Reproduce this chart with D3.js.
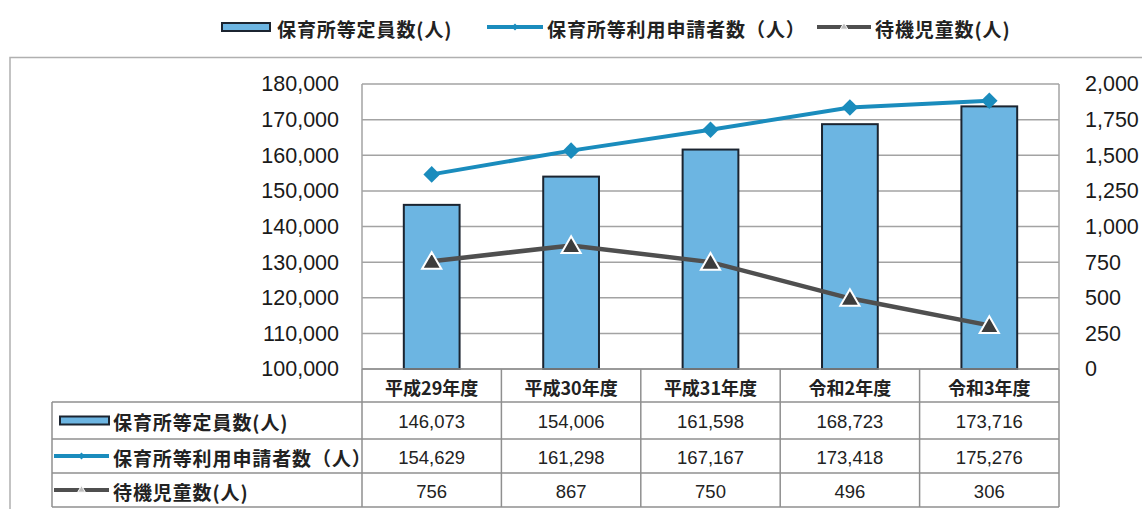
<!DOCTYPE html>
<html><head><meta charset="utf-8">
<script src="https://cdn.jsdelivr.net/npm/d3@7"></script>
<style>
html,body{margin:0;padding:0;background:#fff;}
svg{display:block;}
</style></head>
<body>
<svg id="chart" width="1142" height="509"></svg>
<script>
const categories = ["平成29年度","平成30年度","平成31年度","令和2年度","令和3年度"];
const capacity   = [146073,154006,161598,168723,173716];
const applicants = [154629,161298,167167,173418,175276];
const waiting    = [756,867,750,496,306];
const seriesNames = ["保育所等定員数(人)","保育所等利用申請者数（人）","待機児童数(人)"];
const leftTicks  = [100000,110000,120000,130000,140000,150000,160000,170000,180000];
const rightTicks = [0,250,500,750,1000,1250,1500,1750,2000];

const barFill = "#6cb5e2", barStroke = "#1b2430";
const blue = "#1a8cbd", gray = "#4f4f4f", gridC = "#a3a3a3", tableC = "#8f8f8f";
const cjk = "'Noto Sans CJK JP','Noto Sans',sans-serif";
const num = "'Liberation Sans',Arial,sans-serif";

const svg = d3.select("#chart");
const P = {l:362, r:1059, t:84, b:369};
const x = d3.scaleBand().domain(categories).range([P.l,P.r]);
const yL = d3.scaleLinear().domain([100000,180000]).range([P.b,P.t]);
const yR = d3.scaleLinear().domain([0,2000]).range([P.b,P.t]);

// outer border
svg.append("path").attr("d",`M10,509V57.5H1142`).attr("fill","none").attr("stroke","#b0b0b0").attr("stroke-width",1.5);

// gridlines
svg.append("g").selectAll("line").data(leftTicks).join("line")
  .attr("x1",P.l).attr("x2",P.r).attr("y1",d=>yL(d)).attr("y2",d=>yL(d))
  .attr("stroke",gridC).attr("stroke-width",1.5);
svg.append("line").attr("x1",P.l).attr("x2",P.l).attr("y1",P.t).attr("y2",P.b).attr("stroke",gridC).attr("stroke-width",1.5);
svg.append("line").attr("x1",P.r).attr("x2",P.r).attr("y1",P.t).attr("y2",P.b).attr("stroke",gridC).attr("stroke-width",1.5);

// axes
const gl = svg.append("g").attr("transform",`translate(${P.l},0)`)
  .call(d3.axisLeft(yL).tickValues(leftTicks).tickFormat(d3.format(",")).tickSize(0).tickPadding(23));
gl.select(".domain").remove();
gl.selectAll("text").attr("font-family",num).attr("font-size",21.5).attr("fill","#1a1a1a");
const gr = svg.append("g").attr("transform",`translate(${P.r},0)`)
  .call(d3.axisRight(yR).tickValues(rightTicks).tickFormat(d3.format(",")).tickSize(0).tickPadding(26));
gr.select(".domain").remove();
gr.selectAll("text").attr("font-family",num).attr("font-size",21.5).attr("fill","#1a1a1a");

// bars
const bw = x.bandwidth()*0.4;
svg.append("g").selectAll("rect").data(capacity).join("rect")
  .attr("x",(d,i)=>x(categories[i])+x.bandwidth()/2-bw/2)
  .attr("y",d=>yL(d)).attr("width",bw).attr("height",d=>P.b-yL(d))
  .attr("fill",barFill).attr("stroke",barStroke).attr("stroke-width",2);

// applicants line
const cx = (i)=>x(categories[i])+x.bandwidth()/2;
svg.append("path").datum(applicants)
  .attr("d",d3.line().x((d,i)=>cx(i)).y(d=>yL(d)))
  .attr("fill","none").attr("stroke",blue).attr("stroke-width",4);
svg.append("g").selectAll("path").data(applicants).join("path")
  .attr("transform",(d,i)=>`translate(${cx(i)},${yL(d)})`)
  .attr("d",d3.symbol(d3.symbolDiamond2,175)).attr("fill",blue);

// waiting line
svg.append("path").datum(waiting)
  .attr("d",d3.line().x((d,i)=>cx(i)).y(d=>yR(d)))
  .attr("fill","none").attr("stroke",gray).attr("stroke-width",4.5);
svg.append("g").selectAll("path").data(waiting).join("path")
  .attr("transform",(d,i)=>`translate(${cx(i)},${yR(d)+2})`)
  .attr("d",d3.symbol(d3.symbolTriangle,160)).attr("fill","#3c3c3c")
  .attr("stroke","#fff").attr("stroke-width",2);

// table
const T = {l:52, rows:[369,402,439,473,507]};
const tg = svg.append("g").attr("stroke",tableC).attr("stroke-width",1.5);
tg.append("line").attr("x1",P.l).attr("x2",P.r).attr("y1",T.rows[0]).attr("y2",T.rows[0]);
[1,2,3,4].forEach(k=>tg.append("line").attr("x1",T.l).attr("x2",P.r).attr("y1",T.rows[k]).attr("y2",T.rows[k]));
tg.append("line").attr("x1",T.l).attr("x2",T.l).attr("y1",T.rows[1]).attr("y2",T.rows[4]);
categories.forEach((c,i)=>tg.append("line").attr("x1",x(c)).attr("x2",x(c)).attr("y1",T.rows[0]).attr("y2",T.rows[4]));
tg.append("line").attr("x1",P.r).attr("x2",P.r).attr("y1",T.rows[0]).attr("y2",T.rows[4]);

svg.append("g").selectAll("text").data(categories).join("text")
  .attr("x",(d,i)=>cx(i)).attr("y",(T.rows[0]+T.rows[1])/2+1).attr("text-anchor","middle")
  .attr("dominant-baseline","central").attr("font-family",cjk).attr("font-weight",700)
  .attr("font-size",18).attr("fill","#222").text(d=>d);

const tableData = [capacity, applicants, waiting];
tableData.forEach((arr,r)=>{
  const yc = (T.rows[r+1]+T.rows[r+2])/2+1;
  svg.append("g").selectAll("text").data(arr).join("text")
    .attr("x",(d,i)=>cx(i)).attr("y",yc).attr("text-anchor","middle")
    .attr("dominant-baseline","central").attr("font-family",num)
    .attr("font-size",18.5).attr("fill","#222").text(d=>d3.format(",")(d));
  svg.append("text").attr("x",113).attr("y",yc).attr("dominant-baseline","central")
    .attr("font-family",cjk).attr("font-weight",700).attr("font-size",19).attr("letter-spacing",0.9).attr("fill","#222")
    .text(seriesNames[r]);
});

// legend key drawer
function key(g, type, x0, x1, yc){
  if(type===0){
    g.append("rect").attr("x",x0).attr("y",yc-4).attr("width",x1-x0).attr("height",8)
      .attr("fill",barFill).attr("stroke",barStroke).attr("stroke-width",2);
  } else if(type===1){
    g.append("line").attr("x1",x0).attr("x2",x1).attr("y1",yc).attr("y2",yc).attr("stroke",blue).attr("stroke-width",4);
    g.append("path").attr("transform",`translate(${(x0+x1)/2},${yc})`).attr("d",d3.symbol(d3.symbolDiamond2,30)).attr("fill",blue);
  } else {
    g.append("line").attr("x1",x0).attr("x2",x1).attr("y1",yc).attr("y2",yc).attr("stroke",gray).attr("stroke-width",4);
    g.append("path").attr("transform",`translate(${(x0+x1)/2},${yc})`).attr("d",d3.symbol(d3.symbolTriangle,25)).attr("fill","#bbb").attr("stroke","#fff").attr("stroke-width",1);
  }
}
// table keys
[0,1,2].forEach(r=>{
  const yc = (T.rows[r+1]+T.rows[r+2])/2;
  key(svg.append("g"), r, r===0?60:54, 109, yc);
});

// top legend
const legendPos = [{k0:222,k1:270,t:277},{k0:487,k1:543,t:547},{k0:817,k1:871,t:875}];
legendPos.forEach((p,i)=>{
  key(svg.append("g"), i, p.k0, p.k1, 27);
  svg.append("text").attr("x",p.t).attr("y",28).attr("dominant-baseline","central")
    .attr("font-family",cjk).attr("font-weight",700).attr("font-size",19).attr("letter-spacing",0.9).attr("fill","#222")
    .text(seriesNames[i]);
});
</script>
</body></html>
